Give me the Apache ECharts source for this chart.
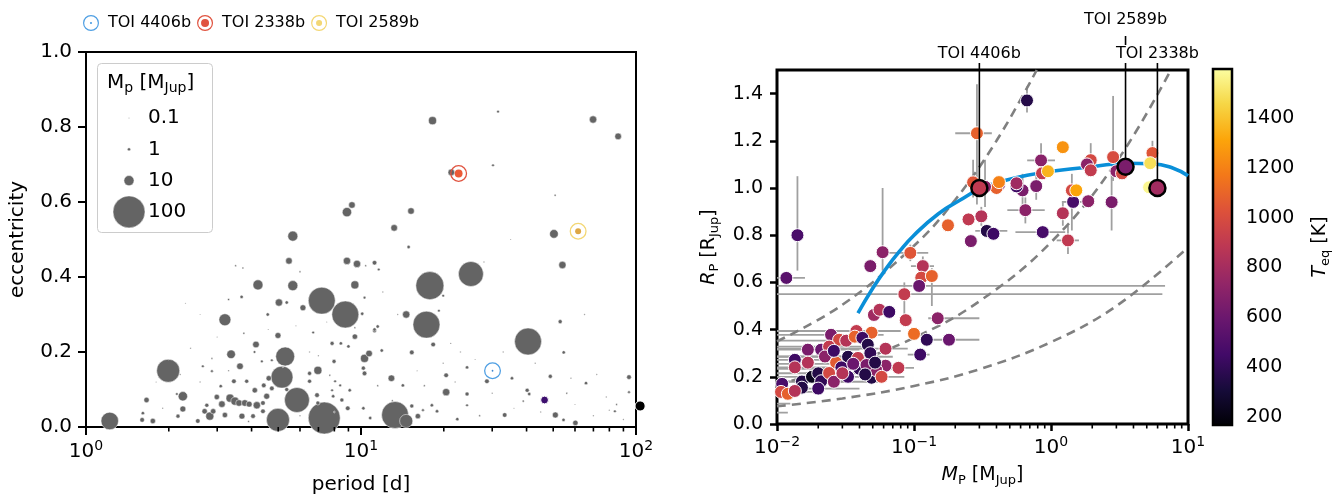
<!DOCTYPE html>
<html><head><meta charset="utf-8">
<script src="https://cdn.jsdelivr.net/npm/echarts@6/dist/echarts.min.js"></script>
<style>html,body{margin:0;padding:0;background:#fff}#c{width:1340px;height:500px}</style>
</head><body><div id="c"></div>
<script>
// ================= DATA =================
// Left panel: [period (d), eccentricity, planet mass (M_Jup)]
const leftPlanets = [
[1.22,0.016,30],[1.99,0.150,52],[3.2,0.286,14],[5.3,0.188,35],[5.16,0.133,47],[5.85,0.072,61],
[4.99,0.019,52],[7.2,0.337,71],[8.77,0.300,71],[7.35,0.024,100],[13.3,0.032,71],[14.6,0.016,17],
[17.8,0.377,77],[17.3,0.273,71],[25.1,0.408,61],[40.5,0.228,71],
[9.27,0.592,4.3],[8.89,0.573,8.5],[5.65,0.509,9.8],[5.47,0.443,4.3],[8.89,0.443,5.3],[9.67,0.435,5.3],
[11.6,0.42,0.7],[10.4,0.43,0.3],[3.5,0.43,0.3],[3.72,0.424,0.3],[6.0,0.414,0.3],[4.22,0.379,9.8],
[5.65,0.377,9.8],[9.5,0.379,6.3],[10.3,0.345,0.7],[3.68,0.347,1.1],[3.3,0.34,0.4],[5.03,0.332,5.3],
[5.37,0.332,1.1],[6.15,0.318,3.5],[4.58,0.30,1.1],[10.1,0.302,1.1],[3.75,0.25,0.4],[4.99,0.244,3.5],
[6.7,0.252,0.7],[9.5,0.241,2.8],[11.2,0.257,1.6],[4.15,0.22,4.3],[7.85,0.223,1.6],[8.45,0.223,1.1],
[9.0,0.215,1.1],[3.37,0.194,7.3],[4.1,0.2,0.7],[2.87,0.183,0.3],[4.36,0.175,0.7],[4.74,0.178,0.7],
[7.98,0.175,1.6],[10.3,0.183,6.3],[10.7,0.196,4.3],[3.63,0.162,4.3],[6.97,0.151,6.3],[2.66,0.162,0.7],
[2.87,0.149,0.7],[10.2,0.157,1.6],[10.3,0.143,2.1],[3.45,0.122,2.1],[3.09,0.109,1.1],[3.84,0.122,1.6],
[4.62,0.13,2.8],[4.11,0.098,2.8],[4.43,0.111,2.1],[6.5,0.122,1.6],[2.25,0.082,8.5],[2.14,0.088,0.7],
[1.66,0.072,2.8],[2.25,0.048,3.5],[2.16,0.029,1.6],[2.7,0.042,2.8],[2.75,0.058,1.6],[2.99,0.08,2.8],
[3.12,0.061,4.3],[3.34,0.077,6.3],[3.48,0.069,6.3],[3.6,0.064,4.3],[3.78,0.064,4.3],[3.92,0.061,3.5],
[4.18,0.058,5.3],[2.82,0.029,6.3],[2.9,0.042,2.8],[3.2,0.032,2.8],[3.69,0.029,3.5],[4.05,0.029,2.1],
[4.4,0.042,2.1],[4.54,0.082,3.5],[4.74,0.103,2.1],[5.37,0.10,1.6],[4.4,0.064,2.1],[1.6,0.019,2.1],
[1.75,0.016,2.8],[2.55,0.016,2.1],[1.61,0.037,1.1],[6.92,0.085,2.1],[6.97,0.064,1.6],[7.92,0.082,1.1],
[8.52,0.072,1.6],[8.95,0.05,2.1],[10.2,0.05,1.1],[10.8,0.024,1.1],[9.1,0.098,1.1],[8.05,0.122,0.7],
[7.85,0.098,0.7],[8.4,0.111,0.7],[6.5,0.143,1.6],[7.7,0.138,0.3],
[18.2,0.817,6.3],[31.5,0.841,0.7],[69.8,0.82,5.3],[86.1,0.775,4.3],[21.3,0.679,4.3],[30.2,0.698,0.7],
[50.8,0.618,0.4],[15.2,0.576,4.3],[13.2,0.531,4.3],[14.9,0.48,1.1],[50.3,0.515,7.3],[54,0.432,5.3],
[35,0.50,0.15],[11.2,0.438,2.1],[19.9,0.35,0.7],[14.6,0.30,5.3],[13.6,0.30,0.2],[19.2,0.31,0.7],
[11.2,0.26,1.1],[11.5,0.268,1.1],[18.3,0.22,2.1],[21.2,0.223,0.2],[53,0.281,1.6],[65,0.30,0.2],
[54.6,0.199,1.1],[15.3,0.199,2.1],[11.9,0.204,1.1],[19.9,0.17,0.2],[24.3,0.159,1.1],[32.9,0.20,0.2],
[12.9,0.13,4.3],[14.2,0.111,1.1],[20.4,0.138,2.1],[28.7,0.122,2.1],[35.4,0.13,1.1],[48.8,0.135,1.6],
[58,0.13,0.2],[65.8,0.117,1.1],[94.3,0.133,2.1],[94.3,0.093,0.7],[78,0.08,0.2],[20.4,0.093,5.3],
[24.3,0.088,1.6],[40.2,0.098,1.6],[40.9,0.088,1.1],[38.9,0.069,0.4],[33.3,0.032,2.1],[50.9,0.032,3.5],
[54.5,0.019,1.1],[60.2,0.011,2.8],[83.8,0.042,0.7],[80,0.045,0.2],[16.1,0.029,2.8],[18.9,0.042,1.1],
[22.4,0.021,1.1],[15.3,0.056,1.6],[16.8,0.045,0.7],[18.1,0.058,1.1],[24.3,0.058,0.7],
[2.3,0.33,0.15],[2.6,0.30,0.1],[3.0,0.24,0.15],[2.4,0.21,0.2],[2.0,0.18,0.1],[1.8,0.12,0.15],
[2.6,0.12,0.2],[3.3,0.15,0.25],[5.8,0.27,0.15],[6.5,0.20,0.2],[7.5,0.28,0.15],[12,0.36,0.2],
[16,0.15,0.15],[22,0.12,0.2],[26,0.18,0.15],[30,0.09,0.2],[36,0.05,0.15],[45,0.04,0.2],[60,0.06,0.15],
[70,0.03,0.2],[90,0.02,0.2],[13,0.07,0.3],[11.5,0.11,0.3],[27,0.03,0.3],[8,0.04,0.3],[6,0.03,0.25],
[3.9,0.015,0.3],[1.9,0.05,0.2],[2.2,0.14,0.25],[5.2,0.16,0.2],[7,0.19,0.2],[9.5,0.265,0.3],
[4.6,0.26,0.15],[28,0.44,0.2],[23,0.20,0.2],[17,0.11,0.3],[43,0.17,0.2],[72,0.14,0.2],[85,0.06,0.3],[56,0.09,0.3]
];
// Highlighted planets (left): [period, eccentricity, mass]
const leftHighlightNames = ['TOI 4406b', 'TOI 2338b', 'TOI 2589b'];
const leftHighlights = [[30.08,0.150,0.30],[22.65,0.676,5.98],[61.6,0.522,3.5]];
// Other coloured planets (left): [period, eccentricity, mass]
const leftOthers = [[46.5,0.072,6.0],[103.5,0.056,10]];
// Size legend values (M_Jup)
const sizeLegendValues = [0.1, 1, 10, 100];
// Tick values
const eccTicks = [0, 0.2, 0.4, 0.6, 0.8, 1.0];
const periodMinorTicks = [2,3,4,5,6,7,8,9,20,30,40,50,60,70,80,90];
const massMinorTicks = [0.02,0.03,0.04,0.05,0.06,0.07,0.08,0.09,0.2,0.3,0.4,0.5,0.6,0.7,0.8,0.9,2,3,4,5,6,7,8,9];
const radiusTicks = [0, 0.2, 0.4, 0.6, 0.8, 1.0, 1.2, 1.4];
const teqTicks = [200, 400, 600, 800, 1000, 1200, 1400];
const teqRange = [167, 1597];

// Right panel: [M_P (M_Jup), R_P (R_Jup), T_eq (K), M_lo, M_hi, R_lo, R_hi]  (0 = no error bar)
const rightPlanets = [
[0.668,1.371,360, 0,0, 1.32,1.43],
[0.288,1.232,1082, 0.2,0.37, 0.93,1.44],
[1.22,1.173,1254, 0,0,0,0],
[0.846,1.117,700, 0.67,1.07, 1.06,1.19],
[0.86,1.062,910, 0,0,0,0],
[0.95,1.071,1354, 0,0,0,0],
[1.95,1.118,982, 0,0, 1.07,1.19],
[1.83,1.10,710, 0,0,0,0],
[1.95,1.075,910, 0,0,0,0],
[2.84,1.131,1000, 0,0, 1.03,1.39],
[3.0,1.071,710, 0,0,0,0],
[3.3,1.062,982, 0,0,0,0],
[5.5,1.148,1040, 0,0, 1.1,1.2],
[5.3,1.105,1482, 0,0,0,0],
[5.2,1.003,1568, 0,0,0,0],
[2.77,0.94,653, 0,0, 0.82,1.06],
[1.87,0.944,710, 0,0,0,0],
[1.45,0.941,470, 1.2,1.75, 0,0],
[1.42,0.99,982, 0,0, 0.82,1.06],
[1.53,0.99,1310, 0,0,0,0],
[1.22,0.893,853, 0,0, 0.84,0.94],
[1.33,0.778,900, 1.1,1.6, 0.72,0.84],
[0.87,0.813,470, 0.55,1.27, 0,0],
[0.65,0.906,710, 0.48,0.9, 0.85,0.96],
[0.62,0.99,653, 0,0, 0.92,1.06],
[0.56,1.007,440, 0,0,0,0],
[0.56,1.02,782, 0,0,0,0],
[0.78,1.008,653, 0,0, 0.95,1.06],
[0.417,1.013,710, 0,0,0,0],
[0.40,1.0,1082, 0,0,0,0],
[0.417,1.025,1196, 0,0,0,0],
[0.33,1.005,710, 0,0, 0.92,1.12],
[0.27,1.024,1040, 0,0, 0.96,1.12],
[0.31,0.88,853, 0,0, 0.84,0.92],
[0.25,0.867,900, 0,0,0,0],
[0.177,0.842,1082, 0,0,0,0],
[0.34,0.818,353, 0.28,0.48, 0,0],
[0.38,0.806,440, 0,0,0,0],
[0.26,0.775,653, 0,0,0,0],
[0.094,0.725,1040, 0.065,0.127, 0.69,0.76],
[0.059,0.728,710, 0,0, 0.65,1.0],
[0.048,0.669,653, 0,0,0,0],
[0.116,0.669,853, 0.095,0.14, 0.63,0.71],
[0.113,0.62,982, 0,0,0,0],
[0.135,0.627,1082, 0,0, 0.5,0.66],
[0.0141,0.80,482, 0,0, 0.65,1.05],
[0.0117,0.619,540, 0.005,0.016, 0,0],
[0.109,0.585,596, 0.003,6.8, 0,0],
[0.085,0.55,910, 0.003,6.5, 0.44,0.6],
[0.051,0.462,782, 0,0,0,0],
[0.056,0.484,853, 0,0,0,0],
[0.066,0.475,440, 0,0,0,0],
[0.087,0.44,910, 0,0,0,0],
[0.149,0.448,710, 0.127,0.3, 0,0],
[0.1,0.382,1125, 0.09,0.12, 0,0],
[0.124,0.357,396, 0,0,0,0],
[0.18,0.357,596, 0.13,0.3, 0,0],
[0.111,0.294,440, 0.09,0.13, 0,0],
[0.038,0.394,910, 0.003,0.08, 0,0],
[0.049,0.387,1082, 0,0,0,0],
[0.0248,0.378,653, 0.003,0.06, 0,0],
[0.0284,0.357,982, 0,0,0,0],
[0.032,0.353,853, 0.003,0.05, 0,0],
[0.037,0.37,1082, 0,0,0,0],
[0.042,0.365,440, 0,0,0,0],
[0.046,0.336,353, 0,0,0,0],
[0.0168,0.315,653, 0.003,0.04, 0,0],
[0.021,0.315,596, 0,0,0,0],
[0.024,0.328,910, 0.003,0.05, 0,0],
[0.0135,0.272,440, 0.003,0.04, 0,0],
[0.0135,0.24,853, 0.003,0.035, 0,0],
[0.0168,0.26,853, 0,0,0,0],
[0.0224,0.286,710, 0.003,0.055, 0,0],
[0.027,0.26,1060, 0,0,0,0],
[0.033,0.285,353, 0.003,0.07, 0,0],
[0.039,0.28,910, 0,0,0,0],
[0.048,0.30,396, 0,0,0,0],
[0.062,0.319,853, 0.003,0.09, 0,0],
[0.062,0.247,710, 0,0,0,0],
[0.077,0.238,900, 0.05,0.1, 0,0],
[0.0152,0.18,353, 0.003,0.03, 0,0],
[0.018,0.20,240, 0,0,0,0],
[0.020,0.215,353, 0.003,0.045, 0,0],
[0.021,0.181,396, 0,0,0,0],
[0.020,0.15,440, 0.003,0.04, 0,0],
[0.0152,0.154,353, 0,0,0,0],
[0.024,0.216,982, 0,0,0,0],
[0.026,0.179,710, 0.003,0.06, 0,0],
[0.033,0.20,440, 0,0,0,0],
[0.040,0.234,396, 0.003,0.075, 0,0],
[0.049,0.196,353, 0,0,0,0],
[0.053,0.228,710, 0,0,0,0],
[0.058,0.20,982, 0.003,0.085, 0,0],
[0.0109,0.17,482, 0,0,0,0],
[0.0107,0.136,982, 0.003,0.02, 0,0],
[0.0120,0.128,1082, 0,0,0,0],
[0.0135,0.14,853, 0,0,0,0],
[0.0295,0.24,440, 0,0,0,0],
[0.036,0.255,596, 0.003,0.065, 0,0],
[0.045,0.25,653, 0,0,0,0],
[0.03,0.215,853, 0,0,0,0],
[0.044,0.21,353, 0,0,0,0],
[0.052,0.26,353, 0,0,0,0],
[0.026,0.31,440, 0,0,0,0],
[0.006,0.086,700, 0.003,0.0125, 0,0],
[0.006,0.048,700, 0.003,0.012, 0,0]
];
// Highlighted planets (right): [M_P, R_P, T_eq]
const rightHighlightNames = ['TOI 4406b', 'TOI 2589b', 'TOI 2338b'];
const rightHighlights = [[0.30,1.00,900],[3.5,1.09,653],[5.98,1.00,790]];
// Model curves: [M_P, R_P]
const isoDensityA = [[0.01,0.35],[0.03,0.505],[0.1,0.755],[0.2,0.95],[0.4,1.2],[0.787,1.5]];
const isoDensityB = [[0.01,0.168],[0.03,0.245],[0.1,0.365],[0.3,0.52],[1,0.77],[3,1.11],[7.5,1.5]];
const isoDensityC = [[0.01,0.075],[0.03,0.108],[0.1,0.161],[0.3,0.232],[1,0.347],[3,0.5],[10,0.748]];
const modelCurve = [[0.039,0.47],[0.05,0.575],[0.062,0.655],[0.078,0.73],[0.1,0.8],[0.15,0.89],[0.216,0.948],[0.3,0.995],[0.42,1.025],[0.67,1.054],[1.16,1.075],[2.0,1.09],[3.6,1.105],[5.5,1.103],[7.8,1.084],[10,1.052]];

// ================= STYLE =================
const FONT = 'DejaVu Sans';
const inferno = ['#000004','#160b39','#420a68','#6a176e','#932667','#bc3754','#dd513a','#f37819','#fca50a','#f6d746','#fcffa4'];
const ringColors = ['#4f9fe3','#e0533f','#f3d774'];
const dotColors = ['#3d86cf','#ec5a37','#dda744'];
const otherColors = ['#3d0f6e','#000000'];
const grayDot = '#646464';
const sizeOf = m => 3.2 * Math.sqrt(m);
const ringPath = 'path://M0,-10A10,10,0,1,1,0,10A10,10,0,1,1,0,-10ZM0,-8.5A8.5,8.5,0,1,0,0,8.5A8.5,8.5,0,1,0,0,-8.5Z';
const ringDotPath = r => ringPath + 'M0,-' + r + 'A' + r + ',' + r + ',0,1,1,0,' + r + 'A' + r + ',' + r + ',0,1,1,0,-' + r + 'Z';
const legendDotRadius = [1.4, 5, 3.8];

const supRich = {
  b: {fontSize: 20, fontFamily: FONT, color: '#000', lineHeight: 26},
  s: {fontSize: 14, fontFamily: FONT, color: '#000', verticalAlign: 'top', lineHeight: 14}
};
const logLabel = v => {
  const e = Math.round(Math.log10(v));
  return '{b|10}{s|' + (e < 0 ? '\u2212' + (-e) : e) + '}';
};
const subRich = (fs) => ({
  i: {fontSize: fs, fontFamily: FONT, fontStyle: 'italic', color: '#000', lineHeight: 24},
  s: {fontSize: Math.round(fs * 0.7), fontFamily: FONT, color: '#000', verticalAlign: 'bottom', lineHeight: 14}
});

const tickStyle = (len, w) => ({show: true, length: len, lineStyle: {color: '#000', width: w}});
const minorTickSeries = (xi, values) => ({
  type: 'custom', xAxisIndex: xi, yAxisIndex: xi, silent: true, clip: false, z: 5,
  data: values.map(v => [v, 0]),
  renderItem: (params, api) => {
    const p = api.coord([api.value(0), 0]);
    return {type: 'line', shape: {x1: p[0], y1: p[1], x2: p[0], y2: p[1] + 4.5}, style: {stroke: '#000', lineWidth: 1.6}};
  }
});

const option = {
  animation: false,
  backgroundColor: '#fff',
  textStyle: {fontFamily: FONT},
  grid: [
    {left: 86, top: 52, width: 550, height: 377, show: true, borderColor: '#000', borderWidth: 2, backgroundColor: 'transparent'},
    {left: 777, top: 70, width: 411, height: 354, show: true, borderColor: '#000', borderWidth: 3, backgroundColor: 'transparent'},
    {left: 1213, top: 69, width: 19, height: 356, show: false}
  ],
  legend: {
    left: 78, top: 10, itemWidth: 24, itemHeight: 16, itemGap: 6, selectedMode: false,
    textStyle: {fontSize: 16, fontFamily: FONT, color: '#000'},
    data: leftHighlightNames.map((n, i) => ({name: n, icon: ringDotPath(legendDotRadius[i])}))
  },
  xAxis: [
    {type: 'log', logBase: 10, gridIndex: 0, min: 1, max: 100,
     axisLine: {show: false}, splitLine: {show: false}, axisTick: tickStyle(8, 2),
     axisLabel: {margin: 12, formatter: logLabel, rich: supRich},
     name: 'period [d]', nameLocation: 'middle', nameGap: 48,
     nameTextStyle: {fontSize: 20, fontFamily: FONT, color: '#000'}},
    {type: 'log', logBase: 10, gridIndex: 1, min: 0.01, max: 10,
     axisLine: {show: false}, splitLine: {show: false}, axisTick: tickStyle(7, 2.5),
     axisLabel: {margin: 11, formatter: logLabel, rich: supRich},
     name: '{i|M}{s|P} [M{s|Jup}]', nameLocation: 'middle', nameGap: 37,
     nameTextStyle: {fontSize: 19, fontFamily: FONT, color: '#000', lineHeight: 24, rich: subRich(19)}},
    {type: 'value', gridIndex: 2, min: 0, max: 1, show: false}
  ],
  yAxis: [
    {type: 'value', gridIndex: 0, min: 0, max: 1, interval: 0.2,
     axisLine: {show: false}, splitLine: {show: false}, axisTick: tickStyle(8, 2),
     axisLabel: {margin: 14, fontSize: 20, fontFamily: FONT, color: '#000', formatter: v => v.toFixed(1)},
     name: 'eccentricity', nameLocation: 'middle', nameGap: 58,
     nameTextStyle: {fontSize: 20, fontFamily: FONT, color: '#000'}},
    {type: 'value', gridIndex: 1, min: 0, max: 1.5,
     axisLine: {show: false}, splitLine: {show: false},
     axisTick: Object.assign(tickStyle(7, 2.5), {customValues: radiusTicks}),
     axisLabel: {margin: 14, fontSize: 19, fontFamily: FONT, color: '#000', customValues: radiusTicks, formatter: v => v.toFixed(1)},
     name: '{i|R}{s|P} [R{s|Jup}]', nameLocation: 'middle', nameGap: 56,
     nameTextStyle: {fontSize: 19, fontFamily: FONT, color: '#000', lineHeight: 24, rich: subRich(19)}},
    {type: 'value', gridIndex: 2, position: 'right', min: teqRange[0], max: teqRange[1],
     axisLine: {show: false}, splitLine: {show: false},
     axisTick: Object.assign(tickStyle(6, 2.5), {customValues: teqTicks}),
     axisLabel: {margin: 14, fontSize: 19, fontFamily: FONT, color: '#000', customValues: teqTicks, formatter: v => String(v)},
     name: '{i|T}{s|eq} [K]', nameLocation: 'middle', nameGap: 76, nameRotate: 90,
     nameTextStyle: {fontSize: 19, fontFamily: FONT, color: '#000', lineHeight: 24, rich: subRich(19)}}
  ],
  visualMap: [{
    type: 'continuous', show: false, seriesIndex: [12, 14], dimension: 2,
    min: teqRange[0], max: teqRange[1], inRange: {color: inferno}
  }],
  graphic: [],
  series: []
};

const S = option.series;
// 0: grey planets (left)
S.push({type: 'scatter', xAxisIndex: 0, yAxisIndex: 0, data: leftPlanets,
  symbolSize: v => sizeOf(v[2]),
  itemStyle: {color: grayDot, borderColor: '#fff', borderWidth: 0.5, opacity: 1}, z: 2});
// 1-3: rings (legend entries)
leftHighlightNames.forEach((n, i) => {
  S.push({type: 'scatter', name: n, xAxisIndex: 0, yAxisIndex: 0, data: [leftHighlights[i]],
    symbol: ringPath, symbolKeepAspect: true, symbolSize: 17,
    itemStyle: {color: ringColors[i], opacity: 1}, z: 4});
});
// 4: dots of highlighted planets (size by mass)
S.push({type: 'scatter', xAxisIndex: 0, yAxisIndex: 0, data: leftHighlights,
  symbolSize: v => sizeOf(v[2]),
  itemStyle: {color: p => dotColors[p.dataIndex], opacity: 1}, z: 4});
// 5: other coloured planets
S.push({type: 'scatter', xAxisIndex: 0, yAxisIndex: 0, data: leftOthers, clip: false,
  symbolSize: v => sizeOf(v[2]),
  itemStyle: {color: p => otherColors[p.dataIndex], borderColor: '#fff', borderWidth: 1, opacity: 1}, z: 4});
// 6: minor ticks left
S.push(minorTickSeries(0, periodMinorTicks));
// 7: error bars right
S.push({type: 'custom', xAxisIndex: 1, yAxisIndex: 1, data: rightPlanets, silent: true, z: 1,
  renderItem: (params, api) => {
    const cs = params.coordSys;
    const m = api.value(0), r = api.value(1);
    const st = {stroke: '#a0a0a0', lineWidth: 1.8};
    const ch = [];
    if (api.value(3) > 0) {
      const a = api.coord([api.value(3), r]), b = api.coord([api.value(4), r]);
      ch.push({type: 'line', shape: {x1: a[0], y1: a[1], x2: b[0], y2: b[1]}, style: st});
    }
    if (api.value(5) > 0) {
      const a = api.coord([m, api.value(5)]), b = api.coord([m, api.value(6)]);
      ch.push({type: 'line', shape: {x1: a[0], y1: a[1], x2: b[0], y2: b[1]}, style: st});
    }
    return {type: 'group', children: ch,
      clipPath: {type: 'rect', shape: {x: cs.x, y: cs.y, width: cs.width, height: cs.height}}};
  }});
// 8-10: iso-density dashed curves
[isoDensityA, isoDensityB, isoDensityC].forEach(d => {
  S.push({type: 'line', xAxisIndex: 1, yAxisIndex: 1, data: d, smooth: 0.4, showSymbol: false, silent: true, clip: true, z: 2,
    lineStyle: {color: '#808080', width: 2.6, type: [9, 6]}});
});
// 11: model curve
S.push({type: 'line', xAxisIndex: 1, yAxisIndex: 1, data: modelCurve, smooth: 0.5, showSymbol: false, silent: true, z: 3,
  lineStyle: {color: '#0a8fd8', width: 3.6}});
// 12: right planets coloured by Teq
S.push({type: 'scatter', xAxisIndex: 1, yAxisIndex: 1, data: rightPlanets, symbolSize: 13,
  encode: {x: 0, y: 1}, itemStyle: {borderColor: '#fff', borderWidth: 1, opacity: 1}, z: 4});
// 13: annotations
S.push({type: 'custom', xAxisIndex: 1, yAxisIndex: 1, data: rightHighlights, clip: false, silent: true, z: 5,
  renderItem: (params, api) => {
    const p = api.coord([api.value(0), api.value(1)]);
    const name = rightHighlightNames[params.dataIndex];
    const upper = name === 'TOI 2589b';
    const ch = [];
    if (upper) {
      ch.push({type: 'line', shape: {x1: p[0], y1: 36, x2: p[0], y2: 45}, style: {stroke: '#000', lineWidth: 1.6}});
      ch.push({type: 'line', shape: {x1: p[0], y1: 63, x2: p[0], y2: p[1]}, style: {stroke: '#000', lineWidth: 1.6}});
    } else {
      ch.push({type: 'line', shape: {x1: p[0], y1: 63, x2: p[0], y2: p[1]}, style: {stroke: '#000', lineWidth: 1.6}});
    }
    ch.push({type: 'text', style: {x: p[0], y: upper ? 20 : 54, text: name, align: 'center', verticalAlign: 'middle',
      fontSize: 16, fontFamily: FONT, fill: '#000'}});
    return {type: 'group', children: ch};
  }});
// 14: highlighted right planets
S.push({type: 'scatter', xAxisIndex: 1, yAxisIndex: 1, data: rightHighlights, symbolSize: 16, clip: false,
  encode: {x: 0, y: 1}, itemStyle: {borderColor: '#000', borderWidth: 2.5, opacity: 1}, z: 6});
// 15: minor ticks right
S.push(minorTickSeries(1, massMinorTicks));
// 16: colorbar
S.push({type: 'custom', xAxisIndex: 2, yAxisIndex: 2, data: [[0]], silent: true, clip: false,
  renderItem: (params, api) => {
    const a = api.coord([0, teqRange[0]]), b = api.coord([1, teqRange[1]]);
    return {type: 'rect', shape: {x: a[0], y: b[1], width: b[0] - a[0], height: a[1] - b[1]},
      style: {fill: {type: 'linear', x: 0, y: 1, x2: 0, y2: 0,
        colorStops: inferno.map((c, i) => ({offset: i / (inferno.length - 1), color: c}))},
        stroke: '#000', lineWidth: 2.5}};
  }});

// Size legend box (left panel)
const G = option.graphic;
G.push({type: 'rect', left: 97, top: 63, shape: {width: 115, height: 169, r: 4},
  style: {fill: 'rgba(255,255,255,0.8)', stroke: '#cccccc', lineWidth: 1}, z: 10});
G.push({type: 'text', left: 107, top: 71, z: 11,
  style: {text: 'M{s|p} [M{s|Jup}]', fontSize: 20, fontFamily: FONT, fill: '#000', lineHeight: 24,
    rich: {s: {fontSize: 14, fontFamily: FONT, fill: '#000', verticalAlign: 'bottom', lineHeight: 14}}}});
sizeLegendValues.forEach((v, i) => {
  const cy = 118 + i * 31.3;
  const r = sizeOf(v) / 2;
  G.push({type: 'circle', z: 11, shape: {cx: 129, cy: cy, r: r}, style: {fill: grayDot, stroke: '#fff', lineWidth: 0.5}});
  G.push({type: 'text', z: 11, x: 148, y: cy, style: {text: String(v), fontSize: 20, fontFamily: FONT, fill: '#000', verticalAlign: 'middle'}});
});

const chart = echarts.init(document.getElementById('c'), null, {renderer: 'canvas'});
chart.setOption(option);
</script>
</body></html>
